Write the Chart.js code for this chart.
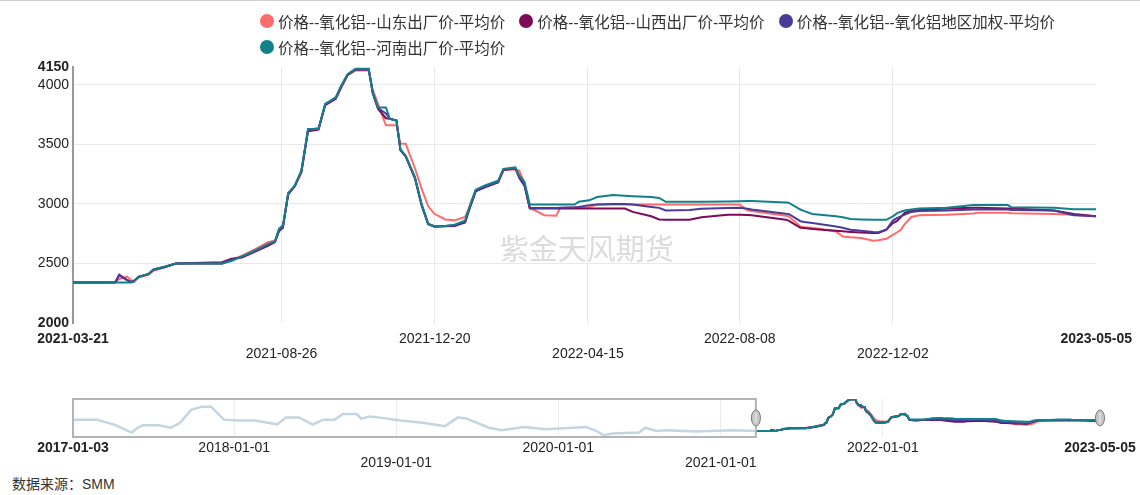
<!DOCTYPE html>
<html>
<head>
<meta charset="utf-8">
<script src="https://cdn.jsdelivr.net/npm/chart.js@4/dist/chart.umd.min.js"></script>
<style>
  html, body { margin: 0; padding: 0; background: #fff; }
  body { width: 1140px; height: 495px; position: relative; overflow: hidden; font-family: "Liberation Sans", "Noto Sans CJK SC", sans-serif; }
  #topline { position: absolute; left: 0; top: 0; width: 1140px; height: 1px; background: #cfcfcf; }
  #legend { position: absolute; left: 260px; top: 8px; width: 860px; display: flex; flex-wrap: wrap; font-size: 15.5px; color: #333; }
  .item { display: flex; align-items: center; height: 26px; margin-right: 14px; white-space: nowrap; }
  .dot { width: 14px; height: 14px; border-radius: 50%; margin-right: 4px; }
  #main { position: absolute; left: 0; top: 0; }
  #nav { position: absolute; left: 0; top: 390px; }
  #source { position: absolute; left: 12px; top: 475px; font-size: 14px; line-height: 18px; color: #333; }
</style>
</head>
<body>
<div id="topline"></div>
<canvas id="main" width="1140" height="372"></canvas>
<canvas id="nav" width="1140" height="85"></canvas>
<div id="legend"></div>
<div id="source">数据来源：SMM</div>
<script>
'use strict';

// ---- data ----
var seriesNames = [
  '价格--氧化铝--山东出厂价-平均价',
  '价格--氧化铝--山西出厂价-平均价',
  '价格--氧化铝--氧化铝地区加权-平均价',
  '价格--氧化铝--河南出厂价-平均价'
];
var seriesColors = ['#ff6b6b', '#7d0a58', '#4b3b98', '#12808a'];

var dates = ['2021-03-21','2021-04-22','2021-04-25','2021-05-01','2021-05-04','2021-05-06','2021-05-10','2021-05-17','2021-05-21','2021-05-30',
  '2021-06-07','2021-07-12','2021-07-19','2021-07-27','2021-08-06','2021-08-16','2021-08-21','2021-08-24','2021-08-27','2021-08-31',
  '2021-09-05','2021-09-10','2021-09-15','2021-09-23','2021-09-28','2021-10-06','2021-10-10','2021-10-15','2021-10-21','2021-10-31',
  '2021-11-03','2021-11-07','2021-11-13','2021-11-16','2021-11-21','2021-11-24','2021-11-28','2021-12-05','2021-12-10','2021-12-15',
  '2021-12-20','2021-12-28','2022-01-04','2022-01-12','2022-01-16','2022-01-20','2022-01-27','2022-02-06','2022-02-10','2022-02-19',
  '2022-02-22','2022-02-26','2022-03-02','2022-03-13','2022-03-22','2022-03-25','2022-04-05','2022-04-08','2022-04-16','2022-04-22',
  '2022-05-04','2022-05-13','2022-05-19','2022-06-02','2022-06-08','2022-06-13','2022-07-01','2022-07-10','2022-07-30','2022-08-08',
  '2022-08-14','2022-08-17','2022-09-12','2022-09-14','2022-09-23','2022-09-26','2022-10-02','2022-10-20','2022-10-25','2022-10-31',
  '2022-11-08','2022-11-17','2022-11-21','2022-11-27','2022-12-02','2022-12-05','2022-12-08','2022-12-11','2022-12-16','2022-12-22',
  '2023-01-12','2023-02-01','2023-02-04','2023-02-27','2023-03-02','2023-04-03','2023-04-18','2023-05-05'];

var shandong = [2340,2345,2370,2390,2360,2355,2385,2405,2440,2470,
  2500,2500,2530,2565,2620,2680,2690,2780,2810,3080,
  3150,3260,3620,3640,3830,3880,3970,4080,4120,4120,
  3960,3840,3660,3660,3660,3505,3505,3300,3130,2980,
  2915,2870,2862,2890,2990,3110,3150,3185,3285,3290,
  3280,3175,2968,2905,2900,2965,2970,2972,2975,2995,
  2995,2995,2995,2995,2995,2995,2995,2995,2995,2995,
  2945,2940,2900,2896,2811,2805,2800,2768,2727,2720,
  2713,2690,2695,2707,2740,2760,2783,2830,2890,2905,
  2910,2920,2925,2925,2922,2916,2910,2896];

var shanxi = [2340,2340,2405,2360,2345,2350,2390,2410,2445,2470,
  2500,2510,2540,2550,2600,2650,2680,2770,2800,3080,
  3150,3270,3610,3625,3830,3885,3980,4085,4130,4130,
  3930,3800,3720,3715,3700,3450,3400,3215,2990,2830,
  2808,2812,2815,2845,2980,3105,3140,3180,3285,3300,
  3220,3150,2962,2962,2962,2962,2962,2962,2962,2962,
  2962,2961,2933,2896,2870,2867,2867,2888,2910,2910,
  2908,2905,2867,2860,2800,2797,2790,2775,2770,2765,
  2760,2755,2755,2783,2840,2855,2890,2925,2940,2950,
  2961,2967,2967,2962,2962,2945,2916,2896];

var jiaquan = [2340,2340,2400,2360,2345,2350,2390,2410,2450,2475,
  2500,2500,2530,2555,2605,2660,2685,2780,2810,3090,
  3150,3275,3620,3630,3835,3890,3985,4085,4130,4130,
  3935,3805,3760,3715,3700,3455,3400,3220,2995,2832,
  2810,2815,2820,2850,2985,3110,3145,3185,3290,3300,
  3230,3160,2965,2965,2965,2968,2972,2975,2990,2995,
  3000,3000,2995,2975,2967,2945,2950,2960,2965,2967,
  2960,2953,2918,2916,2855,2848,2840,2811,2800,2783,
  2775,2765,2763,2783,2860,2880,2896,2910,2933,2940,
  2945,2953,2953,2953,2950,2945,2905,2896];

var henan = [2340,2340,2340,2340,2340,2345,2390,2410,2450,2475,
  2500,2500,2520,2560,2610,2665,2685,2790,2820,3090,
  3155,3280,3630,3630,3840,3895,3990,4090,4135,4135,
  3940,3810,3810,3715,3700,3460,3405,3225,3000,2835,
  2812,2815,2825,2860,3000,3120,3155,3195,3295,3308,
  3240,3185,2995,2995,2995,2995,2995,3018,3030,3058,
  3074,3068,3065,3058,3050,3018,3018,3018,3020,3022,
  3024,3024,3012,3010,2953,2940,2916,2896,2888,2873,
  2870,2867,2867,2867,2896,2920,2935,2945,2953,2961,
  2967,2990,2990,2990,2972,2967,2955,2955];

// earlier history, only shown faded in the navigator
var histDates = ['2017-01-03','2017-02-25','2017-04-05','2017-05-15','2017-05-29','2017-06-09','2017-07-14','2017-08-12','2017-09-01','2017-09-26',
  '2017-10-21','2017-11-10','2017-12-09','2018-01-09','2018-02-17','2018-04-08','2018-04-28','2018-05-27','2018-06-27','2018-07-21',
  '2018-08-15','2018-09-03','2018-10-04','2018-10-14','2018-11-03','2018-11-22','2019-01-11','2019-03-02','2019-04-21','2019-05-20',
  '2019-06-09','2019-07-29','2019-08-27','2019-10-16','2019-12-04','2020-03-03','2020-03-24','2020-04-12','2020-05-02','2020-07-01',
  '2020-07-15','2020-08-09','2020-08-28','2020-11-06','2021-01-25','2021-03-21'];
var histValues = [2983,2983,2708,2250,2527,2670,2670,2527,2800,3533,
  3717,3717,2983,2930,2930,2708,3110,3110,2708,2983,
  2983,3297,3297,3040,3165,3110,2930,2800,2615,3110,
  3040,2527,2380,2560,2433,2560,2380,2100,2200,2250,
  2527,2340,2380,2310,2380,2340];

var yTicks = [2000, 2500, 3000, 3500, 4000, 4150];
var mainTicks = ['2021-03-21','2021-08-26','2021-12-20','2022-04-15','2022-08-08','2022-12-02','2023-05-05'];
var mainTickRows = [1, 2, 1, 2, 1, 2, 1];
var navTicks = ['2017-01-03','2018-01-01','2019-01-01','2020-01-01','2021-01-01','2022-01-01','2023-05-05'];
var navTickRows = [1, 1, 2, 1, 2, 1, 1];

// ---- helpers ----
function dayNum(s) {
  var p = s.split('-').map(Number);
  return Date.UTC(p[0], p[1] - 1, p[2]) / 86400000;
}

function toPoints(ds, vals) {
  var pts = [];
  for (var i = 0; i < ds.length; i++) {
    pts.push({ x: dayNum(ds[i]), y: vals[i] });
  }
  return pts;
}

var allSeries = [shandong, shanxi, jiaquan, henan];

// legend (html so the second row lines up on the left)
var legendEl = document.getElementById('legend');
for (var i = 0; i < seriesNames.length; i++) {
  var item = document.createElement('div');
  item.className = 'item';
  item.innerHTML = '<span class="dot" style="background:' + seriesColors[i] + '"></span>' + seriesNames[i];
  legendEl.appendChild(item);
}

function tickFont(count) {
  return function (ctx) {
    var edge = ctx.index === 0 || ctx.index === count - 1;
    return { family: 'Liberation Sans', size: 14, lineHeight: 1.1, weight: edge ? 'bold' : 'normal' };
  };
}

// ---- main chart ----
var watermark = {
  id: 'watermark',
  beforeDatasetsDraw: function (chart) {
    var c = chart.ctx;
    var a = chart.chartArea;
    c.save();
    c.font = '29px "Noto Sans CJK SC"';
    c.fillStyle = '#dcdcdc';
    c.textAlign = 'center';
    c.textBaseline = 'middle';
    c.fillText('紫金天风期货', a.left + (a.right - a.left) * 0.502, 249);
    c.restore();
  }
};

// later series sit on top (teal last), so give them a lower order
var mainSets = [];
for (var s = 0; s < allSeries.length; s++) {
  mainSets.push({
    label: seriesNames[s],
    data: toPoints(dates, allSeries[s]),
    borderColor: seriesColors[s],
    borderWidth: 2,
    pointRadius: 0,
    tension: 0,
    fill: false,
    order: allSeries.length - s
  });
}

new Chart(document.getElementById('main').getContext('2d'), {
  type: 'line',
  data: { datasets: mainSets },
  plugins: [watermark],
  options: {
    responsive: false,
    animation: false,
    layout: { padding: { top: 67, right: 40, left: 0, bottom: 0 } },
    plugins: { legend: { display: false }, tooltip: { enabled: false } },
    scales: {
      x: {
        type: 'linear',
        min: dayNum(mainTicks[0]),
        max: dayNum(mainTicks[mainTicks.length - 1]),
        afterBuildTicks: function (sc) {
          sc.ticks = mainTicks.map(function (d) { return { value: dayNum(d) }; });
        },
        afterFit: function (sc) { sc.height = 49; },
        border: { display: false },
        grid: {
          drawTicks: false,
          color: function (ctx) {
            return (ctx.index === 0 || ctx.index === mainTicks.length - 1) ? 'rgba(0,0,0,0)' : '#e8e8e8';
          }
        },
        ticks: {
          autoSkip: false,
          maxRotation: 0,
          padding: 8,
          color: '#222',
          font: tickFont(mainTicks.length),
          callback: function (v, i) {
            return mainTickRows[i] === 1 ? [mainTicks[i], ''] : ['', mainTicks[i]];
          }
        }
      },
      y: {
        min: 2000,
        max: 4150,
        afterBuildTicks: function (sc) {
          sc.ticks = yTicks.map(function (v) { return { value: v }; });
        },
        afterFit: function (sc) { sc.width = 73; },
        border: { color: '#999', width: 2 },
        grid: {
          drawTicks: false,
          color: function (ctx) {
            var v = ctx.tick.value;
            return (v === 2000 || v === 4150) ? 'rgba(0,0,0,0)' : '#e8e8e8';
          }
        },
        ticks: {
          padding: 4,
          color: '#222',
          font: tickFont(yTicks.length),
          callback: function (v) { return String(v); }
        }
      }
    }
  }
});

// ---- navigator ----
var navigatorBox = {
  id: 'navigatorBox',
  afterDatasetsDraw: function (chart) {
    var c = chart.ctx;
    var a = chart.chartArea;
    var xs = chart.scales.x;
    var x0 = xs.getPixelForValue(dayNum(histDates[0]));
    var x1 = xs.getPixelForValue(dayNum(dates[0]));
    var x2 = xs.getPixelForValue(dayNum(dates[dates.length - 1]));
    var mid = (a.top + a.bottom) / 2;
    c.save();
    c.strokeStyle = '#b4b4b4';
    c.lineWidth = 2;
    c.strokeRect(x0, a.top, x1 - x0, a.bottom - a.top);
    [x1, x2].forEach(function (hx) {
      c.beginPath();
      c.ellipse(hx, mid, 4.5, 8, 0, 0, Math.PI * 2);
      c.fillStyle = '#c8c8c8';
      c.fill();
      c.strokeStyle = '#7a7a7a';
      c.lineWidth = 1;
      c.stroke();
      c.beginPath();
      c.moveTo(hx, mid - 5);
      c.lineTo(hx, mid + 5);
      c.strokeStyle = '#eeeeee';
      c.stroke();
    });
    c.restore();
  }
};

var navSets = [{
  data: toPoints(histDates, histValues),
  borderColor: '#c3d6df',
  borderWidth: 2.5,
  pointRadius: 0,
  tension: 0,
  order: 10
}];
for (var n = 0; n < allSeries.length; n++) {
  navSets.push({
    data: toPoints(dates, allSeries[n]),
    borderColor: seriesColors[n],
    borderWidth: 2,
    pointRadius: 0,
    tension: 0,
    order: allSeries.length - n
  });
}

new Chart(document.getElementById('nav').getContext('2d'), {
  type: 'line',
  data: { datasets: navSets },
  plugins: [navigatorBox],
  options: {
    responsive: false,
    animation: false,
    layout: { padding: { top: 9, right: 40, left: 73, bottom: 0 } },
    plugins: { legend: { display: false }, tooltip: { enabled: false } },
    scales: {
      x: {
        type: 'linear',
        min: dayNum(navTicks[0]),
        max: dayNum(navTicks[navTicks.length - 1]),
        afterBuildTicks: function (sc) {
          sc.ticks = navTicks.map(function (d) { return { value: dayNum(d) }; });
        },
        afterFit: function (sc) { sc.height = 38; },
        border: { display: false },
        grid: {
          drawTicks: false,
          color: function (ctx) {
            return (ctx.index === 0 || ctx.index === navTicks.length - 1) ? 'rgba(0,0,0,0)' : '#ececec';
          }
        },
        ticks: {
          autoSkip: false,
          maxRotation: 0,
          padding: 3,
          color: '#222',
          font: tickFont(navTicks.length),
          callback: function (v, i) {
            return navTickRows[i] === 1 ? [navTicks[i], ''] : ['', navTicks[i]];
          }
        }
      },
      y: {
        display: false,
        min: 2000,
        max: 4150
      }
    }
  }
});
</script>
</body>
</html>
